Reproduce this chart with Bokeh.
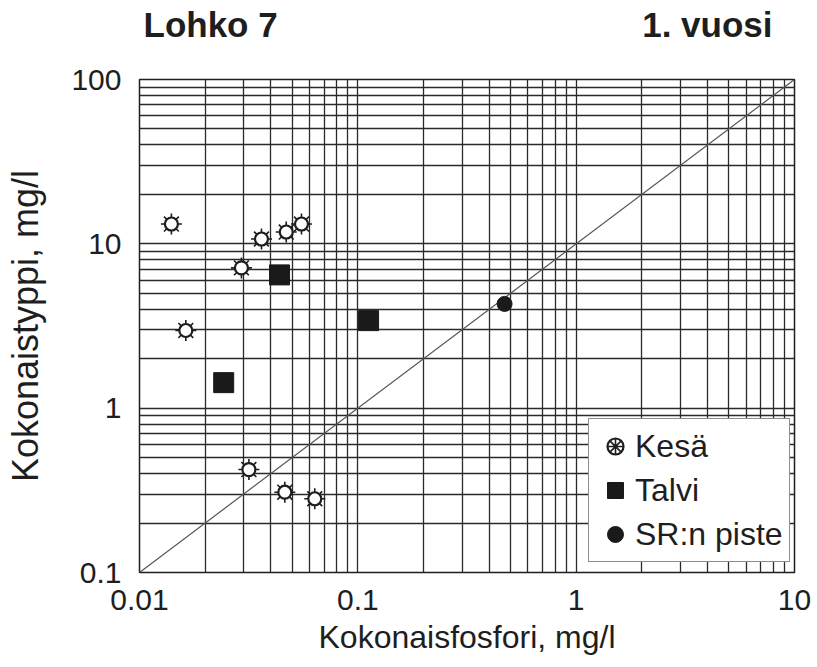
from bokeh.plotting import figure
from bokeh.layouts import column
from bokeh.models import (ColumnDataSource, FixedTicker, CustomJSTickFormatter,
                          Legend, LegendItem, Label, Range1d)
from bokeh.embed import file_html
from bokeh.resources import INLINE

# ---- data ----
kesa_p = [0.0140, 0.0163, 0.0293, 0.0362, 0.0470, 0.0552, 0.0317, 0.0463, 0.0635]
kesa_n = [13.2, 2.97, 7.14, 10.7, 11.8, 13.2, 0.423, 0.308, 0.281]
talvi_p = [0.0438, 0.112, 0.0243]
talvi_n = [6.47, 3.41, 1.43]
sr_p = [0.47]
sr_n = [4.31]
ratio_p = [0.01, 10]
ratio_n = [0.1, 100]

x_ticks = [0.01, 0.1, 1, 10]
y_ticks = [0.1, 1, 10, 100]
x_minor = [m * d for d in [0.01, 0.1, 1] for m in range(2, 10)]
y_minor = [m * d for d in [0.1, 1, 10] for m in range(2, 10)]

title_left = "Lohko 7"
title_right = "1. vuosi"
x_label = "Kokonaisfosfori, mg/l"
y_label = "Kokonaistyppi, mg/l"

FONT = "Liberation Sans"
INK = "#1e1e1e"
W = 816

# ---- header strip with the two titles ----
head = figure(width=W, height=60, x_range=Range1d(0, 1), y_range=Range1d(0, 1),
              output_backend="svg", toolbar_location=None,
              x_axis_location=None, y_axis_location=None,
              min_border=0, outline_line_color=None)
head.grid.visible = False
head.background_fill_color = "white"
head.border_fill_color = "white"
head.add_layout(Label(x=4, y=36, x_units="screen", y_units="screen",
                      text=title_left, text_font=FONT,
                      text_font_size="35px", text_font_style="bold",
                      text_color=INK, text_baseline="alphabetic"))
head.add_layout(Label(x=633, y=36, x_units="screen", y_units="screen",
                      text=title_right, text_font=FONT,
                      text_font_size="35px", text_font_style="bold",
                      text_color=INK, text_baseline="alphabetic", text_align="right"))

# ---- main chart ----
p = figure(width=W, height=606, x_axis_type="log", y_axis_type="log",
           x_range=Range1d(0.01, 10), y_range=Range1d(0.1, 100),
           output_backend="svg", toolbar_location=None,
           min_border_left=139, min_border_right=22,
           min_border_top=19, min_border_bottom=94)
p.background_fill_color = "white"
p.border_fill_color = "white"
p.outline_line_color = INK
p.outline_line_width = 1.5

fmt = CustomJSTickFormatter(code="return tick.toString();")
for ax, ticks, minor in ((p.xaxis, x_ticks, x_minor), (p.yaxis, y_ticks, y_minor)):
    ax.ticker = FixedTicker(ticks=ticks, minor_ticks=minor)
    ax.formatter = fmt
    ax.major_tick_line_color = None
    ax.minor_tick_line_color = None
    ax.major_tick_out = 0
    ax.major_tick_in = 0
    ax.minor_tick_out = 0
    ax.minor_tick_in = 0
    ax.axis_line_color = None
    ax.major_label_text_font = FONT
    ax.major_label_text_font_size = "30px"
    ax.major_label_text_color = INK
    ax.axis_label_text_font = FONT
    ax.axis_label_text_font_style = "normal"
    ax.axis_label_text_color = INK

p.xaxis.axis_label = x_label
p.yaxis.axis_label = y_label
p.xaxis.axis_label_text_font_size = "32px"
p.yaxis.axis_label_text_font_size = "36px"
p.xaxis.major_label_standoff = 17
p.yaxis.major_label_standoff = 18
p.xaxis.axis_label_standoff = 6
p.yaxis.axis_label_standoff = 22

for g in (p.xgrid, p.ygrid):
    g.grid_line_color = "#2a2a2a"
    g.grid_line_width = 1.3
    g.minor_grid_line_color = "#2a2a2a"
    g.minor_grid_line_width = 1.3

# 1:10 line
p.line(ratio_p, ratio_n, line_color="#555555", line_width=1.2)

ks = ColumnDataSource(dict(x=kesa_p, y=kesa_n))
rays = p.scatter("x", "y", source=ks, marker="asterisk", size=21,
                 line_color=INK, line_width=1.6)
body = p.scatter("x", "y", source=ks, marker="circle", size=13,
                 fill_color="white", line_color=INK, line_width=2.2)
ts = ColumnDataSource(dict(x=talvi_p, y=talvi_n))
sq = p.scatter("x", "y", source=ts, marker="square", size=20,
               fill_color="#1a1a1a", line_color="#1a1a1a")
ss = ColumnDataSource(dict(x=sr_p, y=sr_n))
dot = p.scatter("x", "y", source=ss, marker="circle", size=15,
                fill_color="#1a1a1a", line_color="#1a1a1a")

legend = Legend(items=[
    LegendItem(label="Kesä", renderers=[body, rays]),
    LegendItem(label="Talvi", renderers=[sq]),
    LegendItem(label="SR:n piste", renderers=[dot]),
], location=(449, 10))
legend.label_text_font = FONT
legend.label_text_font_size = "32px"
legend.label_text_color = INK
legend.glyph_width = 40
legend.glyph_height = 42
legend.label_height = 42
legend.label_standoff = 0
legend.spacing = 2
legend.padding = 6
legend.margin = 0
legend.border_line_color = INK
legend.border_line_width = 1.5
legend.background_fill_color = "white"
legend.background_fill_alpha = 1.0
p.add_layout(legend, "center")

layout = column(head, p, spacing=0)
open("out.html", "w").write(file_html(layout, INLINE))
